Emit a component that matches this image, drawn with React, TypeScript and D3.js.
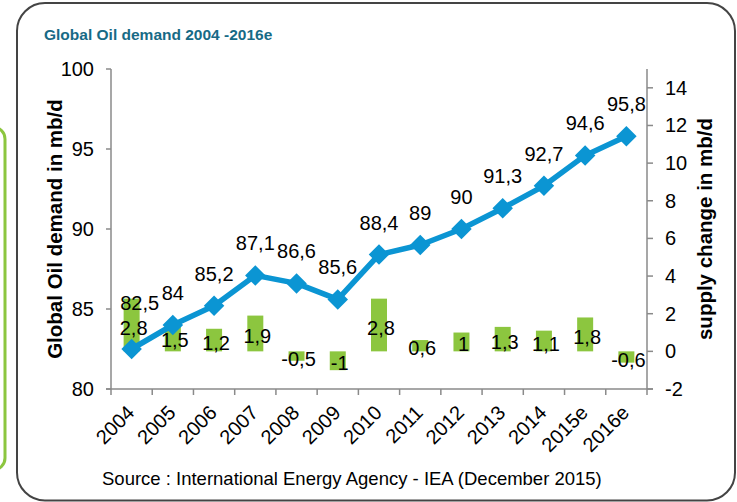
import { useEffect, useRef } from 'react';
import * as d3 from 'd3';

const years = ['2004', '2005', '2006', '2007', '2008', '2009', '2010', '2011', '2012', '2013', '2014', '2015e', '2016e'];
const demand = [82.5, 84, 85.2, 87.1, 86.6, 85.6, 88.4, 89, 90, 91.3, 92.7, 94.6, 95.8];
const supplyChange = [2.8, 1.5, 1.2, 1.9, -0.5, -1, 2.8, 0.6, 1, 1.3, 1.1, 1.8, -0.6];
const leftTicks = [80, 85, 90, 95, 100];
const rightTicks = [-2, 0, 2, 4, 6, 8, 10, 12, 14];

const FONT = "'Liberation Sans', Arial, sans-serif";
const AXIS = '#8a8a8a';
const BLUE = '#0b95d3';
const GREEN = '#8cc63f';

const fmt = (v: number) => String(v).replace('.', ',');

export default function App() {
  const svgRef = useRef<SVGSVGElement>(null);

  useEffect(() => {
    if (!svgRef.current) return;
    const svg = d3.select(svgRef.current);
    svg.selectAll('*').remove();

    const left = 111;
    const right = 647;
    const top = 69;
    const bottom = 389;

    const x = d3.scaleBand<string>().domain(years).range([left, right]);
    const yL = d3.scaleLinear().domain([80, 100]).range([bottom, top]);
    const yR = d3.scaleLinear().domain([-2, 15]).range([bottom, top]);
    const cx = (i: number) => (x(years[i]) ?? 0) + x.bandwidth() / 2;

    // outer frames
    svg.append('rect')
      .attr('x', -40).attr('y', 127).attr('width', 45).attr('height', 343).attr('rx', 12)
      .attr('fill', 'none').attr('stroke', GREEN).attr('stroke-width', 3);
    svg.append('rect')
      .attr('x', 17).attr('y', 3).attr('width', 718).attr('height', 497.5).attr('rx', 28)
      .attr('fill', 'none').attr('stroke', '#444').attr('stroke-width', 2);

    svg.append('text')
      .attr('x', 44).attr('y', 40)
      .attr('font-family', FONT).attr('font-size', 15.5).attr('font-weight', 700)
      .attr('fill', '#176a86')
      .text('Global Oil demand 2004 -2016e');

    // bars
    const barW = 16;
    svg.append('g').selectAll('rect')
      .data(supplyChange)
      .join('rect')
      .attr('x', (_, i) => cx(i) - barW / 2)
      .attr('width', barW)
      .attr('y', (d) => Math.min(yR(d), yR(0)))
      .attr('height', (d) => Math.abs(yR(d) - yR(0)))
      .attr('fill', GREEN);

    // axes
    const ax = svg.append('g').attr('stroke', AXIS).attr('stroke-width', 1.5);
    ax.append('line').attr('x1', left).attr('x2', left).attr('y1', top).attr('y2', bottom);
    ax.append('line').attr('x1', right).attr('x2', right).attr('y1', top).attr('y2', bottom);
    ax.append('line').attr('x1', left - 5).attr('x2', right + 6).attr('y1', bottom).attr('y2', bottom);
    leftTicks.forEach((t) => {
      ax.append('line').attr('x1', left - 5).attr('x2', left).attr('y1', yL(t)).attr('y2', yL(t));
    });
    rightTicks.forEach((t) => {
      ax.append('line').attr('x1', right).attr('x2', right + 6).attr('y1', yR(t)).attr('y2', yR(t));
    });
    d3.range(years.length + 1).forEach((i) => {
      const xx = left + i * x.step();
      ax.append('line').attr('x1', xx).attr('x2', xx).attr('y1', bottom).attr('y2', bottom + 6);
    });

    const txt = svg.append('g').attr('font-family', FONT).attr('fill', '#000');

    leftTicks.forEach((t) => {
      txt.append('text')
        .attr('x', 94).attr('y', yL(t) + 7)
        .attr('text-anchor', 'end').attr('font-size', 20)
        .text(t);
    });
    rightTicks.forEach((t) => {
      txt.append('text')
        .attr('x', 665).attr('y', yR(t) + 7)
        .attr('font-size', 20)
        .text(t);
    });
    years.forEach((yr, i) => {
      txt.append('text')
        .attr('transform', `translate(${cx(i) + 4},414) rotate(-45)`)
        .attr('text-anchor', 'end').attr('font-size', 20)
        .text(yr);
    });

    txt.append('text')
      .attr('transform', 'translate(62,229) rotate(-90)')
      .attr('text-anchor', 'middle').attr('font-size', 20.5).attr('font-weight', 700)
      .text('Global Oil demand in mb/d');
    txt.append('text')
      .attr('transform', 'translate(712,229) rotate(-90)')
      .attr('text-anchor', 'middle').attr('font-size', 20.5).attr('font-weight', 700)
      .text('supply change in mb/d');

    // demand line
    const line = d3.line<number>()
      .x((_, i) => cx(i))
      .y((d) => yL(d));
    svg.append('path')
      .datum(demand)
      .attr('d', line)
      .attr('fill', 'none')
      .attr('stroke', BLUE)
      .attr('stroke-width', 5.5)
      .attr('stroke-linejoin', 'round');

    const side = 14.5;
    svg.append('g').selectAll('rect')
      .data(demand)
      .join('rect')
      .attr('x', -side / 2).attr('y', -side / 2)
      .attr('width', side).attr('height', side)
      .attr('transform', (d, i) => `translate(${cx(i)},${yL(d)}) rotate(45)`)
      .attr('fill', BLUE);

    // demand labels
    demand.forEach((d, i) => {
      const first = i === 0;
      txt.append('text')
        .attr('x', cx(i) + (first ? 8 : 0))
        .attr('y', yL(d) - (first ? 46 : 32) + 7)
        .attr('text-anchor', 'middle').attr('font-size', 20)
        .text(fmt(d));
    });

    // supply change labels
    supplyChange.forEach((d, i) => {
      const mid = (yR(d) + yR(0)) / 2;
      txt.append('text')
        .attr('x', cx(i) + 2)
        .attr('y', mid + 9.5)
        .attr('text-anchor', 'middle').attr('font-size', 20)
        .text(fmt(d));
    });

    txt.append('text')
      .attr('x', 102).attr('y', 485)
      .attr('font-size', 18.5)
      .text('Source : International Energy Agency - IEA (December 2015)');
  }, []);

  return (
    <svg
      ref={svgRef}
      width={737}
      height={502}
      style={{ position: 'absolute', left: 0, top: 0, background: '#fff' }}
    />
  );
}
